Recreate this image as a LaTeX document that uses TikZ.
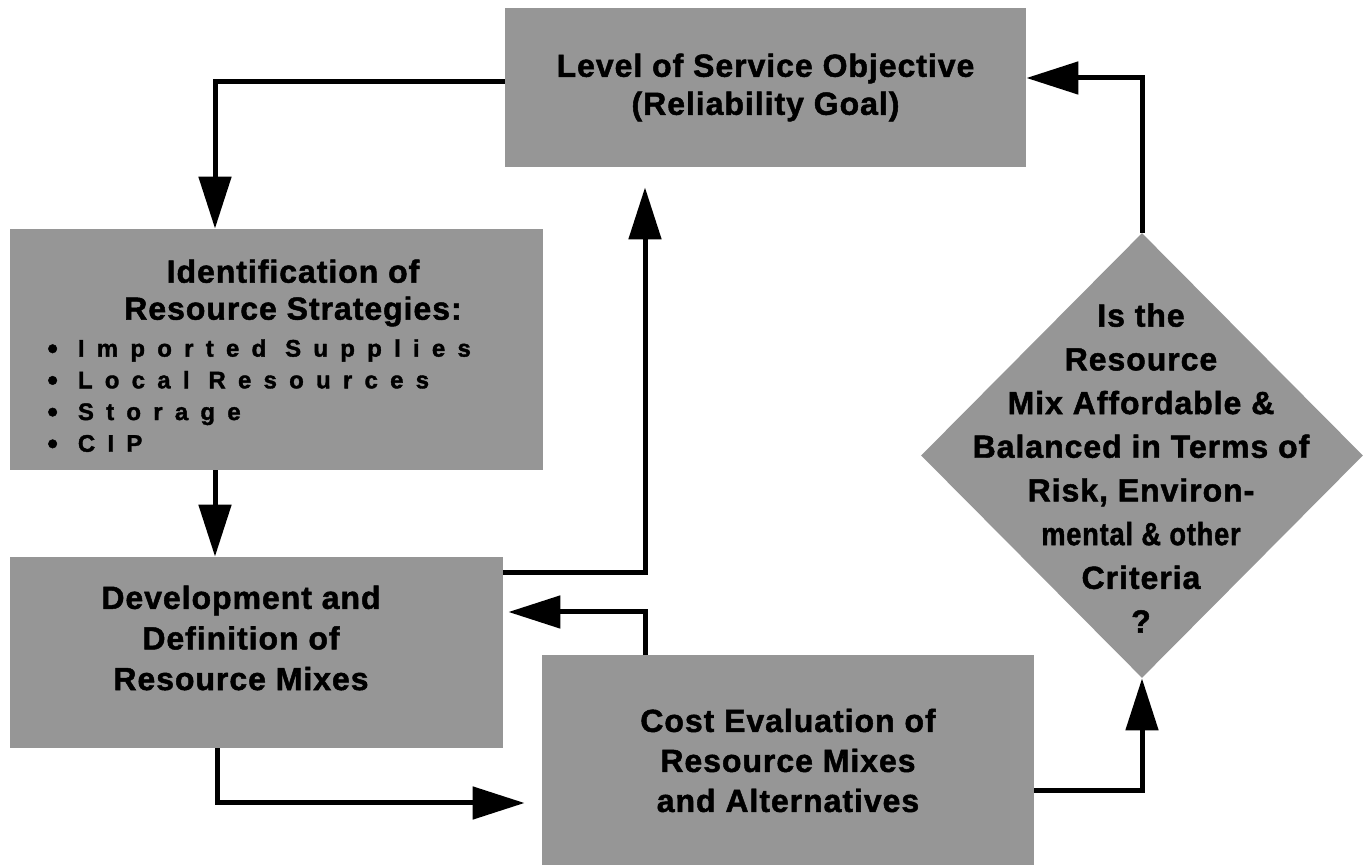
\documentclass[tikz,border=0pt]{standalone}
\usepackage{fontspec}
\setmainfont{Liberation Sans}
\newfontfamily\boxfont{Liberation Sans}[LetterSpace=3,FakeBold=1.5]
\newfontfamily\listfont{Liberation Sans}[LetterSpace=51,FakeBold=1.5]
\usepackage{tikz}
\usetikzlibrary{shapes.geometric}
\usetikzlibrary{arrows.meta,calc}
\definecolor{boxgray}{RGB}{150,150,150}
\newcommand{\hdfont}[1]{\boxfont\bfseries\fontsize{16pt}{#1pt}\selectfont}
\newcommand{\bigbul}{\raisebox{-1pt}{\fontsize{15pt}{15pt}\selectfont\textbullet}\hspace{10pt}}
\tikzstyle{Gbox}=[shape=rectangle,fill=boxgray,inner sep=0pt,align=center]
\tikzstyle{Qstate}=[shape=diamond,fill=boxgray,inner sep=0pt,aspect=1]
\tikzstyle{boxtext}=[inner sep=0pt,align=center]
\tikzstyle{flowedge}=[line width=2.5pt,-{Triangle[length=26pt,width=16pt]}]

\begin{document}
\begin{tikzpicture}[x=0.5pt,y=-0.5pt]
\useasboundingbox (0,0) rectangle (1367,865);

%boxes
\node[Gbox,minimum width=260.5pt,minimum height=79.5pt,font=\hdfont{19}] (lvl) at (765.5,87.5){Level of Service Objective\\(Reliability Goal)};
\node[Gbox,minimum width=266.5pt,minimum height=120.5pt] (ident) at (276.5,349.5){};
\node[Gbox,minimum width=246.5pt,minimum height=95.5pt] (devel) at (256.5,652.5){};
\node[Gbox,minimum width=246pt,minimum height=105pt,font=\hdfont{20}] (cost) at (788,760.5){Cost Evaluation of\\Resource Mixes\\and Alternatives};
\node[Qstate,minimum width=221pt,minimum height=222.5pt] (mixq) at (1142,455.5){};

%texts
\node[boxtext,font=\hdfont{18.5}] (identhd) at (293,293){Identification of\\Resource Strategies:};
\node[boxtext,align=left,anchor=west,font=\listfont\bfseries\fontsize{12pt}{15.85pt}\selectfont] (identlst) at (47,396.5){\bigbul Imported Supplies\\ \bigbul Local Resources\\ \bigbul Storage\\ \bigbul CIP};
\node[boxtext,font=\hdfont{20.3}] (develtxt) at (241,638){Development and\\Definition of\\Resource Mixes};
\node[boxtext,font=\hdfont{21.85}] (mixqtxt) at (1141,468){Is the\\Resource\\Mix Affordable \&\\Balanced in Terms of\\Risk, Environ-\\\scalebox{0.85}[1]{mental \& other}\\Criteria\\?};

%connectors
\draw[flowedge] ($(lvl.west)+(0,-5.5)$) -| ($(ident.north)+(-61.5,0)$);
\draw[flowedge] ($(ident.south)+(-61.5,0)$) -- ($(devel.north)+(-41.5,0)$);
\draw[flowedge,shorten >=10pt] ($(devel.east)+(0,-79.5)$) -| ($(lvl.south)+(-120.5,0)$);
\draw[flowedge,shorten >=2.5pt] ($(cost.north)+(-143,0)$) |- ($(devel.east)+(0,-40.5)$);
\draw[flowedge,shorten >=8.5pt] ($(devel.south)+(-39.5,0)$) |- ($(cost.west)+(0,42.5)$);
\draw[flowedge] ($(cost.east)+(0,30.5)$) -| (mixq.south);
\draw[flowedge] (mixq.north) |- ($(lvl.east)+(0,-9.5)$);

\end{tikzpicture}
\end{document}
